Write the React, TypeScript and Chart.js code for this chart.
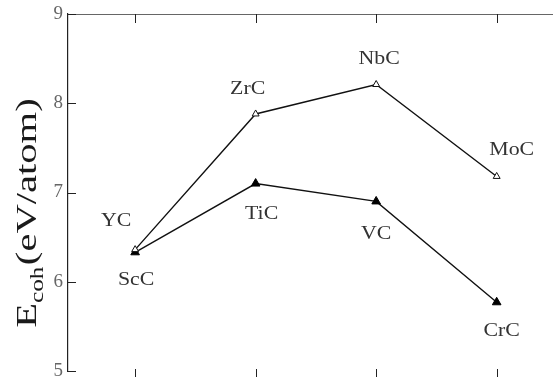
import React, { useEffect, useRef } from "react";
import { Chart, registerables } from "chart.js";

Chart.register(...registerables);

const categoryIndex = [0, 1, 2, 3];
const openLabels = ["YC", "ZrC", "NbC", "MoC"];
const openValues = [6.36, 7.88, 8.21, 7.18];
const filledLabels = ["ScC", "TiC", "VC", "CrC"];
const filledValues = [6.33, 7.1, 6.9, 5.77];
const yTickValues = [5, 6, 7, 8, 9];

// label offsets (pixels) relative to each marker: style only
const openLabelOffsets = [
  [-19, -29],
  [-8, -25],
  [3, -25],
  [15, -26],
];
const filledLabelOffsets = [
  [1, 28],
  [6, 30],
  [0, 33],
  [5, 29],
];

const SERIF = '"Times New Roman", Times, "Liberation Serif", serif';

const pointLabelPlugin = {
  id: "pointLabels",
  afterDatasetsDraw(chart: any) {
    const ctx = chart.ctx;
    const sets = [
      { labels: openLabels, offs: openLabelOffsets },
      { labels: filledLabels, offs: filledLabelOffsets },
    ];
    ctx.save();
    ctx.fillStyle = "#333";
    ctx.font = `19px ${SERIF}`;
    ctx.textAlign = "center";
    ctx.textBaseline = "middle";
    sets.forEach((s, di) => {
      const meta = chart.getDatasetMeta(di);
      meta.data.forEach((pt: any, i: number) => {
        const x = pt.x + s.offs[i][0];
        const y = pt.y + s.offs[i][1];
        ctx.save();
        ctx.translate(x, y);
        ctx.scale(1.15, 1);
        ctx.fillText(s.labels[i], 0, 0);
        ctx.restore();
      });
    });
    ctx.restore();
  },
};

const tickMarkPlugin = {
  id: "tickMarks",
  afterDraw(chart: any) {
    const ctx = chart.ctx;
    const { left, top, bottom } = chart.chartArea;
    const xs = chart.scales.x;
    const ys = chart.scales.y;
    ctx.save();
    ctx.strokeStyle = "#222";
    ctx.lineWidth = 1;
    yTickValues.forEach((v) => {
      const py = Math.round(ys.getPixelForValue(v)) + 0.5;
      ctx.beginPath();
      ctx.moveTo(left, py);
      ctx.lineTo(left + 8, py);
      ctx.stroke();
    });
    categoryIndex.forEach((c) => {
      const px = Math.round(xs.getPixelForValue(c)) + 0.5;
      ctx.beginPath();
      ctx.moveTo(px, top);
      ctx.lineTo(px, top + 9);
      ctx.stroke();
      ctx.beginPath();
      ctx.moveTo(px, bottom - 2);
      ctx.lineTo(px, bottom + 6);
      ctx.stroke();
    });
    ctx.restore();
  },
};

const axisTitlePlugin = {
  id: "axisTitle",
  afterDraw(chart: any) {
    const ctx = chart.ctx;
    const sx = 1.4;
    ctx.save();
    ctx.fillStyle = "#1a1a1a";
    ctx.textBaseline = "alphabetic";
    ctx.textAlign = "left";
    ctx.font = `29px ${SERIF}`;
    const wE = ctx.measureText("E").width;
    const wRest = ctx.measureText("(eV/atom)").width;
    ctx.font = `18px ${SERIF}`;
    const wSub = ctx.measureText("coh").width;
    const total = (wE + wSub + 1 + wRest) * sx;
    const centerY = 213;
    ctx.translate(36, centerY + total / 2);
    ctx.rotate(-Math.PI / 2);
    ctx.scale(sx, 1);
    ctx.font = `29px ${SERIF}`;
    ctx.fillText("E", 0, 0);
    ctx.font = `18px ${SERIF}`;
    ctx.fillText("coh", wE, 7);
    ctx.font = `29px ${SERIF}`;
    ctx.fillText("(eV/atom)", wE + wSub + 1, 0);
    ctx.restore();
  },
};

export default function App() {
  const ref = useRef<HTMLCanvasElement>(null);
  useEffect(() => {
    if (!ref.current) return;
    const chart = new Chart(ref.current, {
      type: "line",
      data: {
        datasets: [
          {
            label: "open",
            data: categoryIndex.map((c, i) => ({ x: c, y: openValues[i] })),
            borderColor: "#111",
            borderWidth: 1.4,
            pointStyle: "triangle",
            pointRadius: 4,
            pointBorderWidth: 1,
            pointBackgroundColor: "#fff",
            pointBorderColor: "#111",
            tension: 0,
          },
          {
            label: "filled",
            data: categoryIndex.map((c, i) => ({ x: c, y: filledValues[i] })),
            borderColor: "#111",
            borderWidth: 1.4,
            pointStyle: "triangle",
            pointRadius: 5,
            pointBorderWidth: 1,
            pointBackgroundColor: "#000",
            pointBorderColor: "#000",
            tension: 0,
          },
        ],
      },
      options: {
        animation: false,
        responsive: true,
        maintainAspectRatio: false,
        layout: { padding: { left: 0, right: 0, top: 0, bottom: 5 } },
        plugins: {
          legend: { display: false },
          tooltip: { enabled: false },
          title: { display: false },
        },
        scales: {
          x: {
            type: "linear",
            position: "top",
            min: -0.557,
            max: 3.459,
            ticks: { display: false },
            grid: { display: false, drawTicks: false },
            border: { display: true, color: "#666", width: 1 },
            afterFit: (s: any) => {
              s.height = 14;
              s.paddingLeft = 0;
              s.paddingRight = 0;
            },
          },
          y: {
            type: "linear",
            min: 5,
            max: 9,
            afterBuildTicks: (s: any) => {
              s.ticks = yTickValues.map((v) => ({ value: v }));
            },
            ticks: {
              color: "#666",
              padding: 5,
              font: { family: SERIF, size: 19 },
            },
            grid: { display: false, drawTicks: false },
            border: { display: true, color: "#222", width: 1.2 },
            afterFit: (s: any) => {
              s.width = 68;
              s.paddingTop = 0;
              s.paddingBottom = 0;
            },
          },
        },
      },
      plugins: [tickMarkPlugin, pointLabelPlugin, axisTitlePlugin],
    });
    return () => chart.destroy();
  }, []);
  return (
    <div style={{ position: "absolute", left: 0, top: 0, width: 558, height: 377, background: "#fff" }}>
      <canvas ref={ref} />
    </div>
  );
}
